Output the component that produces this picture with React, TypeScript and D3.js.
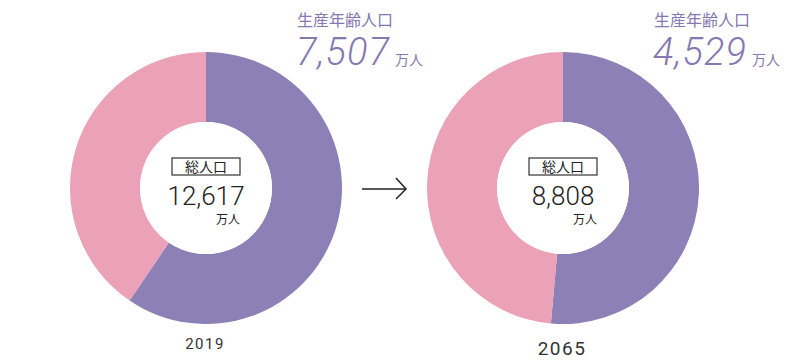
import React from "react";
import * as d3 from "d3";

const years = ["2019", "2065"];
const totalPop = [12617, 8808];
const workingPop = [7507, 4529];
const titleLabel = "生産年齢人口";
const totalLabel = "総人口";
const unitLabel = "万人";

const PURPLE = "#8d80b7";
const PINK = "#eba2b8";
const TEXT_PURPLE = "#8678b0";

const W = 800;
const H = 360;

export default function App() {
  const centersX = [206, 563];
  const cy = 188;
  const outerR = 136;
  const innerR = 66;
  const fmt = d3.format(",");
  const pie = d3.pie<number>().sort(null).value((d) => d);
  const arc = d3.arc<d3.PieArcDatum<number>>().innerRadius(innerR).outerRadius(outerR);
  const yearSize = [15, 19];
  const yearY = [349, 355];

  return (
    <svg width={W} height={H} style={{ position: "absolute", left: 0, top: 0, background: "#fff" }}>
      {years.map((y, i) => {
        const cx = centersX[i];
        const slices = pie([workingPop[i], totalPop[i] - workingPop[i]]);
        const tx = cx + 91;
        return (
          <g key={y}>
            <g transform={`translate(${cx},${cy})`}>
              {slices.map((s, j) => (
                <path key={j} d={arc(s) || ""} fill={j === 0 ? PURPLE : PINK} />
              ))}
              <circle r={innerR} fill="#fff" />
              <rect x={-34} y={-30} width={68} height={17} fill="none" stroke="#333" strokeWidth={1.2} />
              <text x={0} y={-16} textAnchor="middle" fontFamily="'Noto Sans CJK JP'" fontSize={14} fill="#222">
                {totalLabel}
              </text>
              <text x={0} y={17} textAnchor="middle" fontFamily="Roboto" fontWeight={300} fontSize={26} fill="#222">
                {fmt(totalPop[i])}
              </text>
              <text x={22} y={36} textAnchor="middle" fontFamily="'Noto Sans CJK JP'" fontSize={12} fill="#222">
                {unitLabel}
              </text>
            </g>
            <text x={tx} y={26} fontFamily="'Noto Sans CJK JP'" fontSize={16} fill={TEXT_PURPLE}>
              {titleLabel}
            </text>
            <text x={tx - 1} y={65} fontFamily="Roboto" fontStyle="italic" fontWeight={300} fontSize={38} letterSpacing={1} fill={TEXT_PURPLE}>
              {fmt(workingPop[i])}
            </text>
            <text x={tx + 98} y={65} fontFamily="'Noto Sans CJK JP'" fontSize={14} fill={TEXT_PURPLE}>
              {unitLabel}
            </text>
            <text x={cx - 1} y={yearY[i]} textAnchor="middle" fontFamily="Roboto" fontWeight={400} fontSize={yearSize[i]} letterSpacing={1.5} fill="#333">
              {y}
            </text>
          </g>
        );
      })}
      <g stroke="#222" strokeWidth={1.5} fill="none">
        <line x1={362} y1={189} x2={406} y2={189} />
        <polyline points="396,178 406,189 396,199" />
      </g>
    </svg>
  );
}
